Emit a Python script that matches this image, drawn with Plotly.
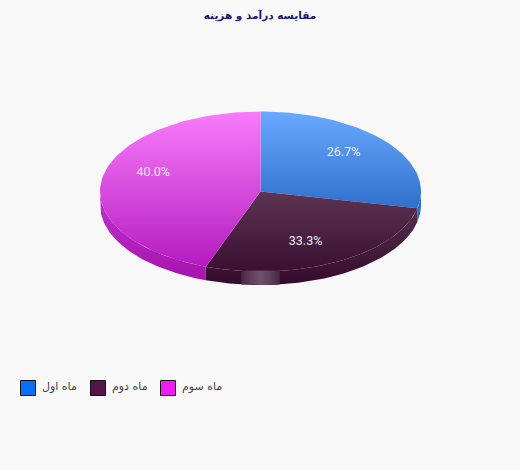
import numpy as np
import plotly.graph_objects as go

labels = ["ماه اول", "ماه دوم", "ماه سوم"]
shares = [26.7, 33.3, 40.0]
legend_colors = ["#0570fb", "#541548", "#ee1cee"]
top_colors = [("#6aa9ff", "#2e70cc"), ("#5c3552", "#3a0f33"), ("#f97cfc", "#b41cc0")]
side_colors = [("#2e72cc", "#2a66bc"), ("#55304e", "#340a2c"), ("#c234cf", "#a612ac")]
title_text = "مقایسه درآمد و هزینه"

# pie geometry in page pixels
cx, cy, rx, ry, depth = 260.5, 191.5, 160.5, 80, 13.5
# legend layout in page pixels
legend_x, legend_step, legend_y = 28, 70, 388


def ellipse_param(angle):
    # the slice edges run at the true pixel angle, so convert it to the ellipse parameter
    a = np.radians(angle)
    r = 1 / np.sqrt((np.sin(a) / rx) ** 2 + (np.cos(a) / ry) ** 2)
    return np.arctan2(r * np.sin(a) / rx, r * np.cos(a) / ry) % (2 * np.pi)


def arc(t0, t1, dy=0, n=80):
    t = np.linspace(t0, t1, n)
    return cx + rx * np.sin(t), cy - ry * np.cos(t) + dy


fig = go.Figure()
edges = np.cumsum([0] + shares) / np.sum(shares) * 360
params = [ellipse_param(e) for e in edges[:-1]] + [2 * np.pi]

# side wall first, only the front half of the disc shows it
for i in range(3):
    t0 = max(params[i], np.pi / 2)
    t1 = min(params[i + 1], 3 * np.pi / 2)
    if t1 <= t0:
        continue
    x1, y1 = arc(t0, t1)
    x2, y2 = arc(t1, t0, depth)
    wall_y = np.r_[y1, y2]
    fig.add_trace(go.Scatter(
        x=np.r_[x1, x2], y=wall_y, mode="lines", fill="toself",
        fillgradient=dict(type="vertical", colorscale=[[0, side_colors[i][0]], [1, side_colors[i][1]]],
                          start=wall_y.min(), stop=wall_y.max()),
        line=dict(width=0), hoverinfo="skip", showlegend=False,
    ))

# top of the disc
for i in range(3):
    ax, ay = arc(params[i], params[i + 1])
    fig.add_trace(go.Scatter(
        x=np.r_[cx, ax, cx], y=np.r_[cy, ay, cy], mode="lines", fill="toself",
        fillgradient=dict(type="vertical", colorscale=[[0, top_colors[i][0]], [1, top_colors[i][1]]],
                          start=ay.min() if i != 1 else cy, stop=ay.max()),
        line=dict(width=0), hoverinfo="skip", showlegend=False,
    ))

# glossy patch on the front wall
half = 0.1205
hx, hy = arc(np.pi + half, np.pi - half, depth, 20)
fig.add_trace(go.Scatter(
    x=np.r_[hx[0], hx, hx[-1]], y=np.r_[cy + ry - 1, hy, cy + ry - 1], mode="lines", fill="toself",
    fillgradient=dict(type="horizontal",
                      colorscale=[[0, "#4a2644"], [0.25, "#5f3f5a"], [0.5, "#6f5069"],
                                  [0.75, "#5f3f5a"], [1, "#4a2644"]]),
    line=dict(width=0), hoverinfo="skip", showlegend=False,
))

# percent labels
mids = (edges[:-1] + edges[1:]) / 2
fig.add_trace(go.Scatter(
    x=cx - 0.5 + 0.7 * rx * np.sin(np.radians(mids)),
    y=cy - 1 - 0.7 * ry * np.cos(np.radians(mids)),
    text=[f"{s:.1f}%" for s in shares],
    mode="text", textposition="middle center",
    textfont=dict(family="Roboto", size=12.5, color="#efe8f6"),
    hoverinfo="skip", showlegend=False,
))

# legend squares and their names
fig.add_trace(go.Scatter(
    x=[legend_x + i * legend_step for i in range(3)], y=[legend_y] * 3, mode="markers",
    marker=dict(symbol="square", size=15, color=legend_colors, line=dict(color="#111111", width=1)),
    hoverinfo="skip", showlegend=False,
))
for i, name in enumerate(labels):
    fig.add_annotation(x=legend_x + 14 + i * legend_step, y=legend_y - 2, text=name, showarrow=False,
                       xanchor="left", yanchor="middle", borderpad=0, borderwidth=0,
                       font=dict(family="DejaVu Sans", size=11, color="#444444"))

fig.update_layout(
    width=520, height=470,
    margin=dict(l=0, r=0, t=0, b=0),
    paper_bgcolor="#f8f8f8", plot_bgcolor="#f8f8f8",
    showlegend=False,
    title=dict(text=f"<b>{title_text}</b>", x=0.5, xanchor="center", y=1 - 15 / 470, yanchor="middle",
               font=dict(family="DejaVu Sans", size=10.5, color="#191970")),
    xaxis=dict(range=[0, 520], visible=False, fixedrange=True),
    yaxis=dict(range=[470, 0], visible=False, fixedrange=True),
)

fig.write_html("out.html", config={"displayModeBar": False},
               post_script="document.body.style.margin='0';")
